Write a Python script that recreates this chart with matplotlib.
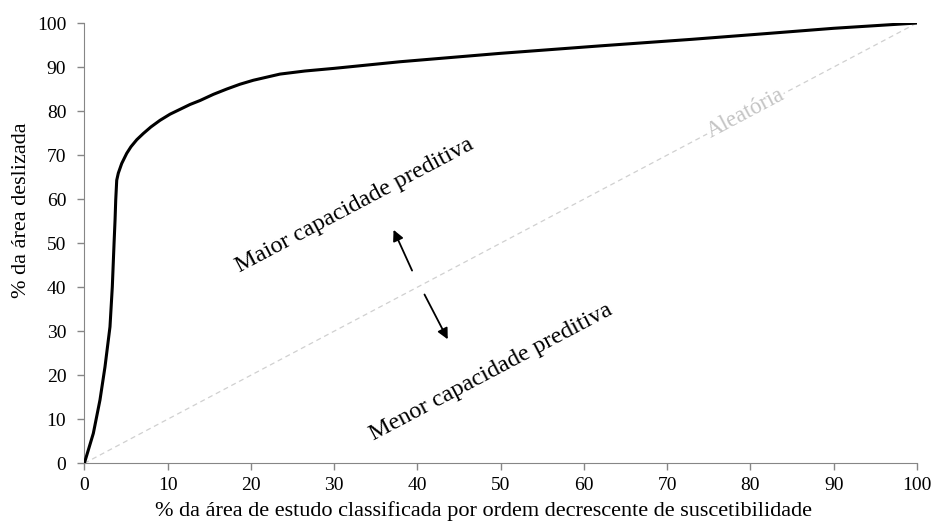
import numpy as np
import matplotlib
matplotlib.use("Agg")
import matplotlib.pyplot as plt

plt.rcParams['font.family'] = ['Liberation Serif', 'DejaVu Serif']

# curve (x = % area, y = % landslide area)
area_pct = [0, 1.08, 1.88, 2.48, 3.08, 3.36, 3.57, 3.69, 3.77, 3.89, 4.08, 4.49, 5.09, 5.6,
            6.3, 7.08, 8.0, 9.09, 10.3, 11.5, 12.7, 13.9, 15.5, 17.1, 18.7, 20.3, 23.5,
            26.5, 30, 37.9, 49.9, 61.9, 73, 81.9, 90, 100]
slide_pct = [0, 6.8, 14.4, 21.9, 31.0, 40.1, 50.0, 55.3, 59.8, 64.3, 65.9, 68.1, 70.4, 71.9,
             73.5, 74.9, 76.4, 77.9, 79.3, 80.4, 81.5, 82.4, 83.8, 85.0, 86.1, 87.0, 88.4,
             89.1, 89.7, 91.2, 93.1, 94.8, 96.3, 97.6, 98.8, 100]
random_x = [0, 100]
random_y = [0, 100]
ticks = list(range(0, 101, 10))

fig, ax = plt.subplots(figsize=(9.35, 5.29), dpi=100)
fig.subplots_adjust(left=0.0902, right=0.9807, top=0.9565, bottom=0.1242)

ax.plot(random_x, random_y, color='#d0d0d0', lw=0.9, ls=(0, (4, 3)), zorder=1)
ax.plot(area_pct, slide_pct, color='black', lw=2.2, zorder=3,
        solid_capstyle='round', solid_joinstyle='round')

ax.set_xlim(0, 100)
ax.set_ylim(0, 100)
ax.set_xticks(ticks)
ax.set_yticks(ticks)
ax.tick_params(direction='out', length=5, color='#868686', labelsize=14, width=1)
ax.tick_params(axis='y', pad=8)
ax.tick_params(axis='x', pad=5)
for s in ['top', 'right']:
    ax.spines[s].set_visible(False)
for s in ['left', 'bottom']:
    ax.spines[s].set_color('#868686')

ax.set_xlabel('% da área de estudo classificada por ordem decrescente de suscetibilidade',
              fontsize=16)
ax.set_ylabel('% da área deslizada', fontsize=16)
ax.xaxis.set_label_coords(0.479, -0.085)
ax.yaxis.set_label_coords(-0.064, 0.575)

# rotation matching the diagonal on screen
ang = 27.9
ax.text(32.5, 58.6, 'Maior capacidade preditiva', rotation=ang, rotation_mode='anchor',
        ha='center', va='center', fontsize=17.5)
ax.text(48.9, 20.7, 'Menor capacidade preditiva', rotation=ang, rotation_mode='anchor',
        ha='center', va='center', fontsize=17.5)
ax.text(79.4, 79.4, 'Aleatória', rotation=ang, rotation_mode='anchor', ha='center', va='center',
        fontsize=16.5, color='#c4c4c4',
        bbox=dict(facecolor='white', edgecolor='none', pad=0.5), zorder=2)

ax.annotate('', xy=(37.0, 53.6), xytext=(39.5, 43.2),
            arrowprops=dict(arrowstyle='-|>', color='black', lw=1.3, mutation_scale=16))
ax.annotate('', xy=(43.8, 27.6), xytext=(40.7, 38.9),
            arrowprops=dict(arrowstyle='-|>', color='black', lw=1.3, mutation_scale=16))

fig.savefig('out.png', dpi=100)
